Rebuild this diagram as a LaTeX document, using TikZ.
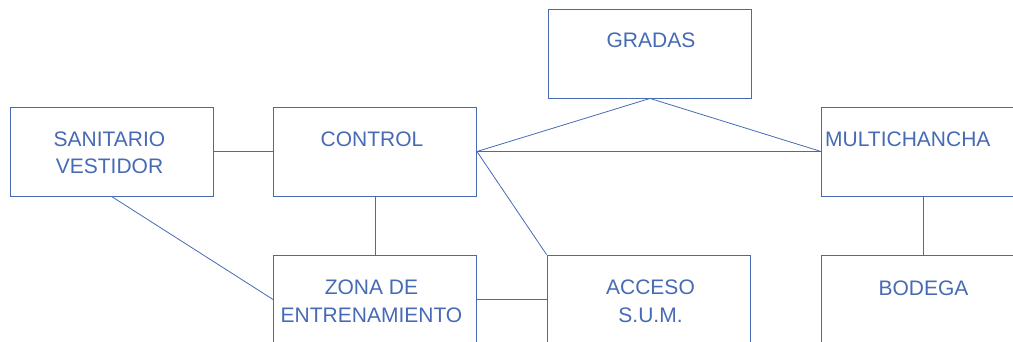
\documentclass[tikz,border=0pt]{standalone}
\usepackage{fontspec}
\setmainfont{Liberation Sans}
\definecolor{ink}{RGB}{70,106,180}
\begin{document}
\begin{tikzpicture}[x=1pt,y=-1pt,
  box/.style={draw=ink,line width=0.9pt,minimum width=203pt,minimum height=89pt,inner sep=0pt},
  lbl/.style={text=ink,font=\fontsize{21}{27.5}\selectfont,align=center,anchor=base,inner sep=0pt},
  conn/.style={draw=ink,line width=0.8pt}]
\useasboundingbox (0,0) rectangle (1013,342);
\clip (0,0) rectangle (1013,342);
\node[box] (san) at (111.5,151.5) {};
\node[box] (ctl) at (375,151.5) {};
\node[box] (gra) at (650,53.5) {};
\node[box] (mul) at (923,151.5) {};
\node[box] (zon) at (375,299.5) {};
\node[box] (acc) at (648.5,299.5) {};
\node[box] (bod) at (923,299.5) {};
\node[lbl] (tsan) at (109.5,174) {SANITARIO\\VESTIDOR};
\node[lbl] (tctl) at (372,147) {CONTROL};
\node[lbl] (tgra) at (651,48) {GRADAS};
\node[lbl,anchor=base west] (tmul) at (825,147) {MULTICHANCHA};
\node[lbl] (tzon) at (371.5,322) {ZONA DE\\ENTRENAMIENTO};
\node[lbl] (tacc) at (650.5,322) {ACCESO\\S.U.M.};
\node[lbl] (tbod) at (923.5,295) {BODEGA};
\draw[conn] (san.east) -- (ctl.west);
\draw[conn] (ctl.east) -- (gra.south);
\draw[conn] (gra.south) -- (mul.west);
\draw[conn] (ctl.east) -- (mul.west);
\draw[conn] (ctl.east) -- (acc.north west);
\draw[conn] (ctl.south) -- (zon.north);
\draw[conn] (san.south) -- (zon.west);
\draw[conn] (zon.east) -- (acc.west);
\draw[conn] (mul.south) -- (bod.north);
\end{tikzpicture}
\end{document}
